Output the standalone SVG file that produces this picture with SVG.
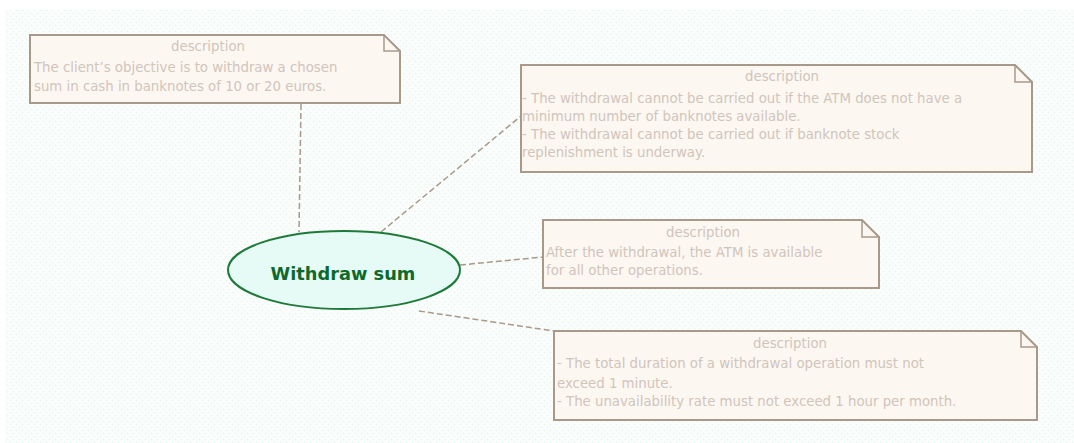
<svg xmlns="http://www.w3.org/2000/svg" width="1074" height="443" viewBox="0 0 1074 443">
  <defs>
    <pattern id="dots" width="6" height="6" patternUnits="userSpaceOnUse">
      <rect width="6" height="6" fill="#fbfdfc"/>
      <circle cx="1.5" cy="1.5" r="0.8" fill="#e4f7ee"/>
      <circle cx="4.5" cy="4.5" r="0.8" fill="#e4f7ee"/>
    </pattern>
  </defs>
  <style>
    .note { fill: #fdf7f2; stroke: #a8998a; stroke-width: 2; }
    .fold { fill: none; stroke: #a8998a; stroke-width: 1.5; }
    .title { font-family: "DejaVu Sans", Verdana, sans-serif; font-size: 13.3px; fill: #d0c5bb; text-anchor: middle; }
    .body { font-family: "DejaVu Sans", Verdana, sans-serif; font-size: 13.3px; fill: #d0c5bb; }
    .link { fill: none; stroke: #a8998a; stroke-width: 1.5; stroke-dasharray: 6 3; }
    .usecase { fill: #e6fbf5; stroke: #1f7a3a; stroke-width: 2; }
    .uclabel { font-family: "DejaVu Sans", Verdana, sans-serif; font-size: 17.8px; font-weight: bold; fill: #0d6a2c; text-anchor: middle; }
  </style>

  <rect width="1074" height="443" fill="#ffffff"/>
  <rect x="5" y="10" width="1069" height="433" fill="url(#dots)"/>

  <!-- connectors between the use case and its notes -->
  <g id="connectors">
    <path class="link" d="M301 104 L299 232"/>
    <path class="link" d="M381 232 L521 116"/>
    <path class="link" d="M460 265 L543 257"/>
    <path class="link" d="M419 311 L554 331"/>
  </g>

  <g id="note-objective">
    <path class="note" d="M30 35 H384 L400 51 V103 H30 Z"/>
    <path class="fold" d="M384 35 V51 H400"/>
    <text class="title" x="208" y="51">description</text>
    <text class="body" x="34" y="72">The client’s objective is to withdraw a chosen</text>
    <text class="body" x="34" y="91">sum in cash in banknotes of 10 or 20 euros.</text>
  </g>

  <g id="note-preconditions">
    <path class="note" d="M521 65 H1015 L1032 82 V172 H521 Z"/>
    <path class="fold" d="M1015 65 V82 H1032"/>
    <text class="title" x="782" y="81">description</text>
    <text class="body" x="522" y="103">- The withdrawal cannot be carried out if the ATM does not have a</text>
    <text class="body" x="522" y="121">minimum number of banknotes available.</text>
    <text class="body" x="522" y="139">- The withdrawal cannot be carried out if banknote stock</text>
    <text class="body" x="522" y="157">replenishment is underway.</text>
  </g>

  <g id="note-postcondition">
    <path class="note" d="M543 220 H862 L879 237 V288 H543 Z"/>
    <path class="fold" d="M862 220 V237 H879"/>
    <text class="title" x="703" y="237">description</text>
    <text class="body" x="546" y="257">After the withdrawal, the ATM is available</text>
    <text class="body" x="546" y="275">for all other operations.</text>
  </g>

  <g id="note-constraints">
    <path class="note" d="M554 331 H1021 L1037 347 V420 H554 Z"/>
    <path class="fold" d="M1021 331 V347 H1037"/>
    <text class="title" x="790" y="348">description</text>
    <text class="body" x="557" y="368">- The total duration of a withdrawal operation must not</text>
    <text class="body" x="557" y="388">exceed 1 minute.</text>
    <text class="body" x="557" y="406">- The unavailability rate must not exceed 1 hour per month.</text>
  </g>

  <g id="usecase-withdraw">
    <ellipse class="usecase" cx="344" cy="270" rx="116" ry="39"/>
    <text class="uclabel" x="343" y="280">Withdraw sum</text>
  </g>
</svg>
